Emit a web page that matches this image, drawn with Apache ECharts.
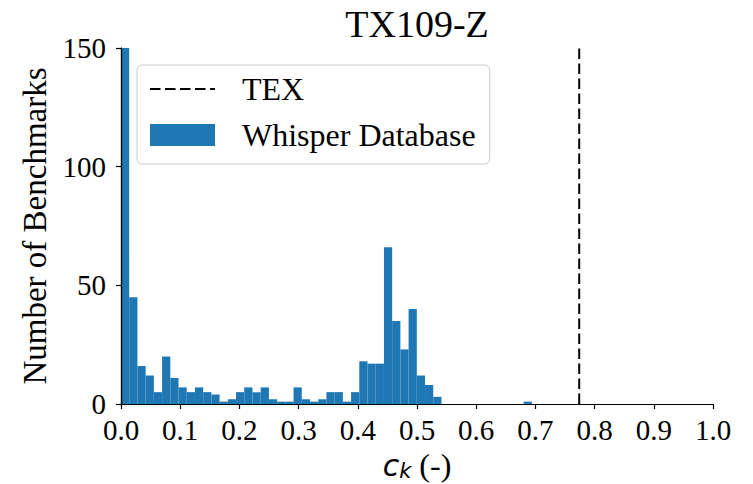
<!DOCTYPE html>
<html>
<head>
<meta charset="utf-8">
<script src="https://cdn.jsdelivr.net/npm/echarts@6/dist/echarts.min.js"></script>
<style>
  html, body { margin: 0; padding: 0; background: #fff; }
  #chart { width: 753px; height: 484px; }
</style>
</head>
<body>
<div id="chart"></div>
<script>
// Histogram of c_k over the Whisper benchmark database, 50 equal-width bins
const binStart = 0;
const binWidth = 0.01388;
const binCounts = [
  210, 45, 16, 12, 5, 20, 11, 7, 5, 7,
  5, 4, 1, 2, 5, 7, 5, 7, 2, 1,
  1, 7, 2, 1, 2, 5, 5, 1, 5, 18,
  17, 17, 66, 35, 23, 40, 12, 8, 3, 0,
  0, 0, 0, 0, 0, 0, 0, 0, 0, 1
];
// c_k of the TEX case
const texValue = 0.774;
const xTicks = { min: 0, max: 1, interval: 0.1 };
const yTicks = { min: 0, max: 150, interval: 50 };

const serif = 'Liberation Serif';
const barColor = '#1f77b4';

const histData = binCounts.map((c, i) => [
  binStart + i * binWidth,
  binStart + (i + 1) * binWidth,
  c
]);

const chart = echarts.init(document.getElementById('chart'), null, { renderer: 'svg' });

const baseAxis = {
  type: 'value',
  splitLine: { show: false },
  axisLine: { show: true, onZero: false, lineStyle: { color: '#000', width: 1.2 } },
  axisTick: { show: true, inside: false, length: 5, lineStyle: { color: '#000', width: 1.2 } },
  axisLabel: { fontFamily: serif, fontSize: 29, lineHeight: 20, color: '#000' },
  z: 10
};

chart.setOption({
  animation: false,
  backgroundColor: '#fff',
  title: {
    text: 'TX109-Z',
    left: 417,
    top: 5,
    padding: 0,
    textAlign: 'center',
    textStyle: { fontFamily: serif, fontSize: 38, fontWeight: 'normal', color: '#000' }
  },
  grid: { left: 121, right: 40, top: 48, bottom: 80, containLabel: false, outerBoundsMode: 'none' },
  legend: {
    orient: 'vertical',
    left: 137,
    top: 65,
    padding: [8, 14, 13, 12],
    itemWidth: 65,
    itemHeight: 22,
    itemGap: 14,
    backgroundColor: 'rgba(255,255,255,0.8)',
    borderColor: '#cccccc',
    borderWidth: 1,
    borderRadius: 5,
    textStyle: { fontFamily: serif, fontSize: 32, color: '#000', padding: [0, 0, 0, 22] },
    data: [
      {
        name: 'TEX',
        itemStyle: { opacity: 0 },
        lineStyle: { color: '#000', width: 2, type: [10.5, 4.5] }
      },
      { name: 'Whisper Database', icon: 'rect', itemStyle: { color: barColor } }
    ]
  },
  xAxis: [
    Object.assign({}, baseAxis, {
      min: xTicks.min, max: xTicks.max, interval: xTicks.interval,
      axisLabel: Object.assign({}, baseAxis.axisLabel, {
        margin: 16,
        formatter: v => v.toFixed(1)
      }),
      name: '{c|c}{k|k}{n| (-)}',
      nameLocation: 'middle',
      nameGap: 40,
      nameTextStyle: {
        rich: {
          c: { fontFamily: 'DejaVu Sans', fontStyle: 'italic', fontSize: 30, color: '#000' },
          k: { fontFamily: 'DejaVu Sans', fontStyle: 'italic', fontSize: 21, color: '#000', verticalAlign: 'bottom', padding: [12, 0, 0, 0] },
          n: { fontFamily: serif, fontSize: 32, color: '#000' }
        }
      }
    }),
    {
      type: 'value', position: 'top', min: xTicks.min, max: xTicks.max,
      axisLine: { show: true, lineStyle: { color: '#000', width: 1.2 } },
      axisTick: { show: false }, axisLabel: { show: false }, splitLine: { show: false }, z: 10
    }
  ],
  yAxis: [
    Object.assign({}, baseAxis, {
      min: yTicks.min, max: yTicks.max, interval: yTicks.interval,
      axisLabel: Object.assign({}, baseAxis.axisLabel, { margin: 15 }),
      name: 'Number of Benchmarks',
      nameLocation: 'middle',
      nameGap: 70,
      nameTextStyle: { fontFamily: serif, fontSize: 33, color: '#000' }
    }),
    {
      type: 'value', position: 'right', min: yTicks.min, max: yTicks.max,
      axisLine: { show: true, lineStyle: { color: '#000', width: 1.2 } },
      axisTick: { show: false }, axisLabel: { show: false }, splitLine: { show: false }, z: 10
    }
  ],
  series: [
    {
      name: 'Whisper Database',
      type: 'custom',
      xAxisIndex: 0,
      yAxisIndex: 0,
      itemStyle: { color: barColor },
      encode: { x: [0, 1], y: 2 },
      data: histData,
      renderItem: function (params, api) {
        const p0 = api.coord([api.value(0), api.value(2)]);
        const p1 = api.coord([api.value(1), 0]);
        const cs = params.coordSys;
        const rect = echarts.graphic.clipRectByRect(
          { x: p0[0], y: p0[1], width: p1[0] - p0[0], height: p1[1] - p0[1] },
          { x: cs.x, y: cs.y, width: cs.width, height: cs.height }
        );
        if (!rect) return null;
        return { type: 'rect', shape: rect, style: { fill: api.visual('color') } };
      }
    },
    {
      name: 'TEX',
      type: 'line',
      xAxisIndex: 0,
      yAxisIndex: 0,
      symbol: 'none',
      lineStyle: { color: '#000', width: 2, type: [10.5, 4.5] },
      data: [[texValue, yTicks.min], [texValue, yTicks.max]],
      z: 5
    }
  ]
});
</script>
</body>
</html>
